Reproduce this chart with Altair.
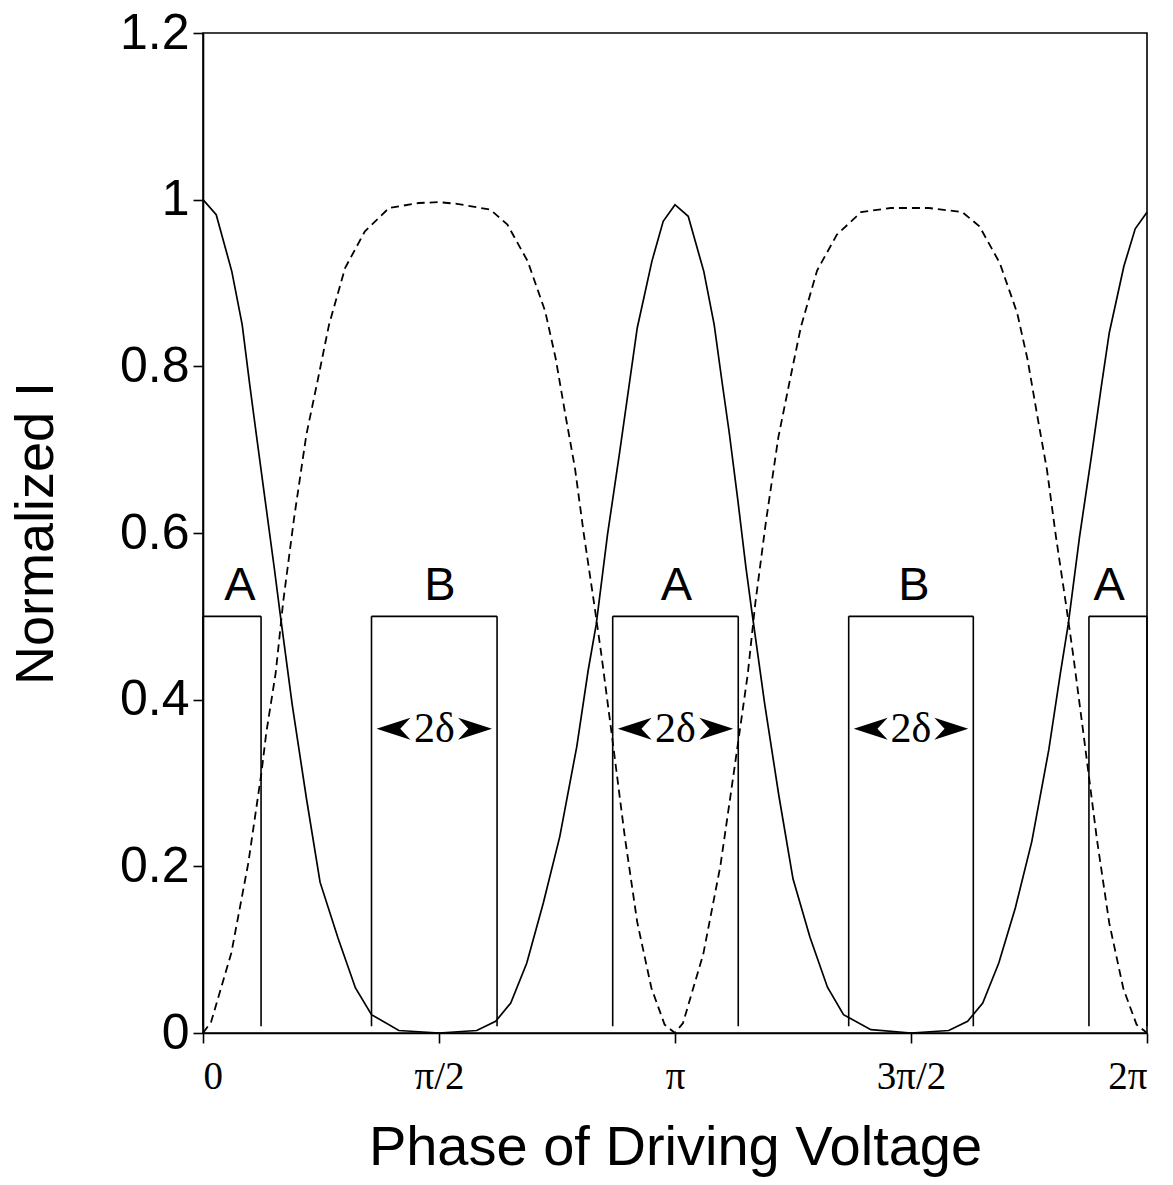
import altair as alt
import pandas as pd

# Phase in units of pi, normalized intensity
phase_solid = [0, 0.028, 0.061, 0.083, 0.099, 0.113, 0.132, 0.151, 0.163, 0.189, 0.219, 0.248,
               0.286, 0.323, 0.357, 0.415, 0.5, 0.58, 0.62, 0.652, 0.686, 0.721, 0.756, 0.792,
               0.816, 0.833, 0.857, 0.883, 0.903, 0.92, 0.951, 0.975, 1.0,
               1.028, 1.061, 1.083, 1.1, 1.115, 1.133, 1.15, 1.163, 1.19, 1.22, 1.25, 1.286,
               1.323, 1.357, 1.415, 1.5, 1.58, 1.62, 1.652, 1.686, 1.721, 1.756, 1.792, 1.816,
               1.833, 1.857, 1.883, 1.903, 1.92, 1.951, 1.975, 2.0]
i_solid = [1.0, 0.982, 0.914, 0.85, 0.778, 0.718, 0.638, 0.558, 0.505, 0.394, 0.282, 0.181,
           0.114, 0.054, 0.022, 0.003, 0.0, 0.003, 0.014, 0.036, 0.084, 0.156, 0.236, 0.344,
           0.435, 0.49, 0.598, 0.698, 0.778, 0.846, 0.926, 0.974, 0.994,
           0.98, 0.914, 0.85, 0.78, 0.72, 0.64, 0.56, 0.505, 0.395, 0.285, 0.185, 0.115,
           0.055, 0.022, 0.004, 0.0, 0.003, 0.014, 0.036, 0.084, 0.15, 0.23, 0.34, 0.43,
           0.49, 0.595, 0.695, 0.775, 0.84, 0.92, 0.965, 0.985]

phase_dashed = [0, 0.017, 0.06, 0.096, 0.124, 0.134, 0.154, 0.17, 0.193, 0.219, 0.244, 0.267,
                0.301, 0.343, 0.394, 0.457, 0.5, 0.538, 0.609, 0.645, 0.688, 0.725, 0.747, 0.769,
                0.788, 0.807, 0.829, 0.844, 0.867, 0.894, 0.92, 0.95, 0.978, 1.0,
                1.017, 1.06, 1.096, 1.124, 1.154, 1.17, 1.193, 1.219, 1.244, 1.267, 1.301, 1.343,
                1.394, 1.457, 1.5, 1.538, 1.609, 1.645, 1.688, 1.725, 1.747, 1.769, 1.788, 1.807,
                1.829, 1.844, 1.867, 1.894, 1.92, 1.95, 1.978, 2.0]
i_dashed = [0.0, 0.013, 0.096, 0.204, 0.313, 0.36, 0.432, 0.518, 0.618, 0.718, 0.786, 0.85,
            0.918, 0.962, 0.99, 0.996, 0.997, 0.995, 0.988, 0.97, 0.926, 0.866, 0.81, 0.738,
            0.678, 0.598, 0.514, 0.454, 0.354, 0.234, 0.133, 0.054, 0.01, 0.0,
            0.012, 0.095, 0.2, 0.31, 0.43, 0.515, 0.615, 0.715, 0.785, 0.848, 0.915, 0.958,
            0.985, 0.99, 0.99, 0.99, 0.985, 0.968, 0.924, 0.864, 0.808, 0.736, 0.676, 0.596,
            0.512, 0.452, 0.352, 0.232, 0.132, 0.053, 0.01, 0.0]

# Window boxes (A / B) of width 2*delta
box_label = ["A", "B", "A", "B", "A"]
box_left = [0.0, 0.357, 0.868, 1.368, 1.877]
box_right = [0.123, 0.623, 1.134, 1.632, 2.0]
box_top = 0.5
box_bottom = 0.008
label_x = [0.078, 0.502, 1.003, 1.506, 1.92]
label_y = 0.52
width_label = "2δ"
width_label_y = 0.365
width_boxes = [1, 2, 3]

x_tick_values = [0, 0.5, 1, 1.5, 2]
y_tick_values = [0, 0.2, 0.4, 0.6, 0.8, 1.0, 1.2]

solid_df = pd.DataFrame({"phase": phase_solid, "I": i_solid})
dashed_df = pd.DataFrame({"phase": phase_dashed, "I": i_dashed})

seg_rows = []
for l, r in zip(box_left, box_right):
    seg_rows.append({"x": l, "x2": l, "y": box_bottom, "y2": box_top})
    seg_rows.append({"x": r, "x2": r, "y": box_bottom, "y2": box_top})
    seg_rows.append({"x": l, "x2": r, "y": box_top, "y2": box_top})
seg_df = pd.DataFrame(seg_rows)

lab_df = pd.DataFrame({"x": label_x, "y": [label_y] * len(label_x), "t": box_label})

w_df = pd.DataFrame({
    "left": [box_left[i] for i in width_boxes],
    "right": [box_right[i] for i in width_boxes],
    "mid": [(box_left[i] + box_right[i]) / 2 for i in width_boxes],
    "y": [width_label_y] * len(width_boxes),
    "t": [width_label] * len(width_boxes),
})

xlabel_expr = ("datum.value == 0 ? '0' : datum.value == 0.5 ? 'π/2' : datum.value == 1 ? 'π' : "
               "datum.value == 1.5 ? '3π/2' : '2π'")

xscale = alt.Scale(domain=[0, 2], nice=False, zero=False)
yscale = alt.Scale(domain=[0, 1.2], nice=False)

xaxis = alt.Axis(values=x_tick_values, labelExpr=xlabel_expr, title="Phase of Driving Voltage",
                 labelFont="Liberation Serif", labelFontSize=39, labelPadding=14,
                 titleFont="Liberation Sans", titleFontSize=56, titleFontWeight="normal",
                 titlePadding=24, tickSize=10, grid=False, domainColor="black",
                 tickColor="black", labelColor="black", titleColor="black", domainWidth=1.6,
                 tickWidth=1.6)
yaxis = alt.Axis(values=y_tick_values, labelExpr="format(datum.value, '~g')", title="Normalized I",
                 labelFont="Liberation Sans", labelFontSize=50, labelPadding=4,
                 titleFont="Liberation Sans", titleFontSize=54, titleFontWeight="normal",
                 titlePadding=56, tickSize=10, grid=False, domainColor="black",
                 tickColor="black", labelColor="black", titleColor="black", domainWidth=1.6,
                 tickWidth=1.6)

solid = alt.Chart(solid_df).mark_line(color="black", strokeWidth=1.7).encode(
    x=alt.X("phase:Q", scale=xscale, axis=xaxis),
    y=alt.Y("I:Q", scale=yscale, axis=yaxis),
)
dashed = alt.Chart(dashed_df).mark_line(color="black", strokeWidth=1.8, strokeDash=[8, 5]).encode(
    x=alt.X("phase:Q", scale=xscale),
    y=alt.Y("I:Q", scale=yscale),
)
boxes = alt.Chart(seg_df).mark_rule(color="black", strokeWidth=1.6).encode(
    x=alt.X("x:Q", scale=xscale), x2="x2:Q",
    y=alt.Y("y:Q", scale=yscale), y2="y2:Q",
)
labels = alt.Chart(lab_df).mark_text(font="Liberation Sans", fontSize=47, baseline="alphabetic",
                                     align="center", color="black").encode(
    x=alt.X("x:Q", scale=xscale), y=alt.Y("y:Q", scale=yscale), text="t:N")

left_arrow = alt.Chart(w_df).mark_point(shape="M -1 0 L 1 -0.65 L 0.4 0 L 1 0.65 Z", size=1150,
                                        filled=True, color="black", opacity=1, xOffset=22).encode(
    x=alt.X("left:Q", scale=xscale), y=alt.Y("y:Q", scale=yscale))
right_arrow = alt.Chart(w_df).mark_point(shape="M 1 0 L -1 -0.65 L -0.4 0 L -1 0.65 Z", size=1150,
                                         filled=True, color="black", opacity=1, xOffset=-22).encode(
    x=alt.X("right:Q", scale=xscale), y=alt.Y("y:Q", scale=yscale))
wtext = alt.Chart(w_df).mark_text(font="Liberation Serif", fontSize=42, baseline="middle",
                                  align="center", color="black").encode(
    x=alt.X("mid:Q", scale=xscale), y=alt.Y("y:Q", scale=yscale), text="t:N")

chart = alt.layer(solid, dashed, boxes, labels, left_arrow, right_arrow, wtext).properties(
    width=944, height=1000,
    background="white",
    autosize=alt.AutoSizeParams(type="none"),
    padding={"left": 203, "top": 33, "right": 26, "bottom": 152},
).configure_view(stroke="black", strokeWidth=1.6)

chart.save("out.html", embed_options={"renderer": "svg", "actions": False})
